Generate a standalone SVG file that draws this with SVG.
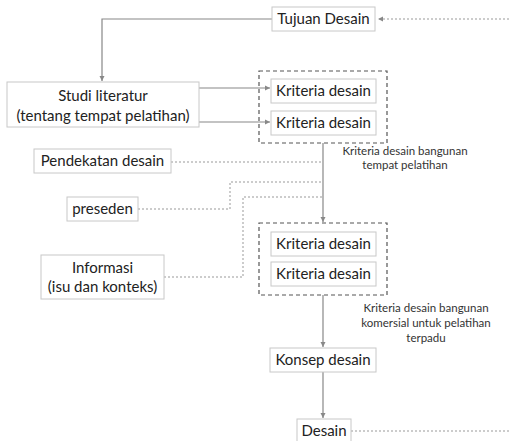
<svg xmlns="http://www.w3.org/2000/svg" width="509" height="441" viewBox="0 0 509 441">
<style>
.box{fill:#fff;stroke:#c8c8c8;stroke-width:1}
.grp{fill:none;stroke:#555;stroke-width:1.2;stroke-dasharray:4 3}
.t{font-family:Lato,"Open Sans",sans-serif;font-size:15px;fill:#222;text-anchor:middle}
.s{font-family:Lato,"Open Sans",sans-serif;font-size:11.5px;fill:#333;text-anchor:middle}
.ln{fill:none;stroke:#888;stroke-width:1.2}
.dot{fill:none;stroke:#999;stroke-width:1;stroke-dasharray:2 2}
</style>
<defs>
<marker id="ah" markerWidth="6" markerHeight="6" refX="5" refY="3" orient="auto" markerUnits="userSpaceOnUse">
<path d="M0,0.5 L5,3 L0,5.5 Z" fill="#888"/>
</marker>
</defs>
<g id="connectors">
<path class="ln" d="M272,19 H102 V81" marker-end="url(#ah)"/>
<path class="ln" d="M199,88 H270" marker-end="url(#ah)"/>
<path class="ln" d="M199,122 H270" marker-end="url(#ah)"/>
<path class="ln" d="M323,143 V222" marker-end="url(#ah)"/>
<path class="ln" d="M323,295 V347" marker-end="url(#ah)"/>
<path class="ln" d="M323,372 V418" marker-end="url(#ah)"/>
<path class="dot" d="M509,19 H378" marker-end="url(#ah)"/>
<path class="dot" d="M171,162 H323"/>
<path class="dot" d="M138,209 H230 V182 H323"/>
<path class="dot" d="M164,277 H243 V197 H323"/>
<path class="dot" d="M351,431 H509"/>
</g>
<g id="tujuan"><rect class="box" x="272" y="7" width="103" height="24"/><text class="t" x="323.5" y="24">Tujuan Desain</text></g>
<g id="studi"><rect class="box" x="7" y="82" width="192" height="45"/><text class="t" x="103" y="101">Studi literatur</text><text class="t" x="103" y="121">(tentang tempat pelatihan)</text></g>
<g id="grup1"><rect class="grp" x="259" y="71" width="128" height="72"/></g>
<g id="kriteria1"><rect class="box" x="271" y="79" width="105" height="24"/><text class="t" x="323.5" y="96">Kriteria desain</text></g>
<g id="kriteria2"><rect class="box" x="271" y="111" width="105" height="24"/><text class="t" x="323.5" y="128">Kriteria desain</text></g>
<g id="label1"><text class="s" x="405" y="155">Kriteria desain bangunan</text><text class="s" x="405" y="169">tempat pelatihan</text></g>
<g id="pendekatan"><rect class="box" x="34" y="149" width="137" height="24"/><text class="t" x="102.5" y="166">Pendekatan desain</text></g>
<g id="preseden"><rect class="box" x="67" y="197" width="71" height="24"/><text class="t" x="102.5" y="214">preseden</text></g>
<g id="informasi"><rect class="box" x="41" y="255" width="123" height="44"/><text class="t" x="102.5" y="273">Informasi</text><text class="t" x="102.5" y="292">(isu dan konteks)</text></g>
<g id="grup2"><rect class="grp" x="259" y="223" width="128" height="72"/></g>
<g id="kriteria3"><rect class="box" x="271" y="232" width="105" height="24"/><text class="t" x="323.5" y="249">Kriteria desain</text></g>
<g id="kriteria4"><rect class="box" x="271" y="262" width="105" height="24"/><text class="t" x="323.5" y="279">Kriteria desain</text></g>
<g id="label2"><text class="s" x="426" y="312">Kriteria desain bangunan</text><text class="s" x="426" y="327">komersial untuk pelatihan</text><text class="s" x="426" y="342">terpadu</text></g>
<g id="konsep"><rect class="box" x="270" y="348" width="106" height="24"/><text class="t" x="323" y="365">Konsep desain</text></g>
<g id="desain"><rect class="box" x="297" y="419" width="54" height="30"/><text class="t" x="324" y="436">Desain</text></g>
</svg>
